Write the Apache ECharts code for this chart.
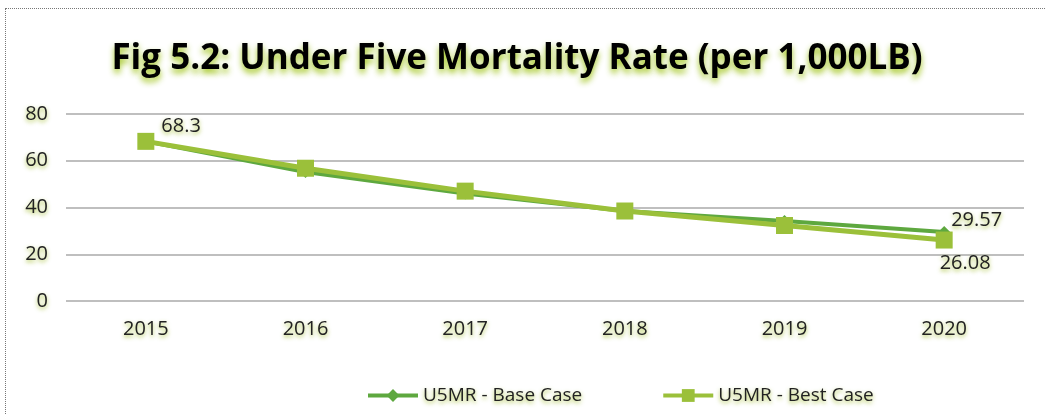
<!DOCTYPE html>
<html>
<head>
<meta charset="utf-8">
<script src="https://cdn.jsdelivr.net/npm/echarts@6/dist/echarts.min.js"></script>
<style>
  html, body { margin: 0; padding: 0; background: #fff; }
  #frame { position: absolute; left: 5px; top: 8px; width: 1040px; height: 406px;
    border-left: 1px dotted #777; border-top: 1px dotted #777; box-sizing: border-box; }
  #chart { width: 1045px; height: 414px; }
</style>
</head>
<body>
<div id="frame"></div>
<div id="chart"></div>
<script>
const years = ['2015', '2016', '2017', '2018', '2019', '2020'];
const baseCase = [68.3, 55.2, 46, 38.5, 34.2, 29.57];
const bestCase = [68.3, 56.8, 47, 38.5, 32.3, 26.08];
const yTicks = [0, 20, 40, 60, 80];

// yellow-green glow under the text, like the original
const glow = {
  textShadowColor: 'rgba(150,180,20,0.8)',
  textShadowBlur: 4,
  textShadowOffsetY: 2
};
const txt = Object.assign({ fontFamily: 'Open Sans', fontSize: 20, color: '#222' }, glow);

const chart = echarts.init(document.getElementById('chart'));

function labelled(values, which) {
  return values.map(function (v, i) {
    const item = { value: v };
    if (which === 'base' && i === values.length - 1) {
      item.label = { show: true, position: 'right', offset: [-4, -12] };
    }
    if (which === 'best' && i === 0) {
      item.label = { show: true, position: 'right', offset: [2, -15] };
    }
    if (which === 'best' && i === values.length - 1) {
      item.label = { show: true, position: 'bottom', offset: [21, 0] };
    }
    return item;
  });
}

const option = {
  animation: false,
  title: {
    text: 'Fig 5.2: Under Five Mortality Rate (per 1,000LB)',
    left: 512,
    textAlign: 'center',
    top: 37,
    textStyle: {
      fontFamily: 'Open Sans',
      fontSize: 35,
      fontWeight: 'bold',
      color: '#000',
      textShadowColor: 'rgba(150,190,0,0.9)',
      textShadowBlur: 6,
      textShadowOffsetY: 4
    }
  },
  legend: {
    bottom: 4,
    left: 361,
    itemGap: 79,
    itemWidth: 50,
    itemHeight: 16,
    lineStyle: { width: 4 },
    textStyle: Object.assign({}, txt, { fontSize: 19 }),
    data: ['U5MR - Base Case', 'U5MR - Best Case']
  },
  grid: { left: 66, right: 21, top: 114, bottom: 113, containLabel: false },
  xAxis: {
    type: 'category',
    data: years,
    boundaryGap: true,
    axisLine: { show: false },
    axisTick: { show: false },
    axisLabel: Object.assign({ margin: 18 }, txt)
  },
  yAxis: {
    type: 'value',
    min: yTicks[0],
    max: yTicks[yTicks.length - 1],
    interval: 20,
    axisLine: { show: false },
    axisTick: { show: false },
    splitLine: { lineStyle: { color: '#aaa', width: 1.5 } },
    axisLabel: Object.assign({ margin: 18 }, txt)
  },
  series: [
    {
      name: 'U5MR - Base Case',
      type: 'line',
      data: labelled(baseCase, 'base'),
      symbol: 'diamond',
      symbolSize: 12,
      color: '#5ea83f',
      lineStyle: { width: 4, color: '#5ea83f' },
      label: Object.assign({ show: false }, txt)
    },
    {
      name: 'U5MR - Best Case',
      type: 'line',
      data: labelled(bestCase, 'best'),
      symbol: 'rect',
      symbolSize: 17,
      color: '#9bc03a',
      lineStyle: { width: 5, color: '#9bc03a' },
      label: Object.assign({ show: false }, txt)
    }
  ]
};

chart.setOption(option);
</script>
</body>
</html>
